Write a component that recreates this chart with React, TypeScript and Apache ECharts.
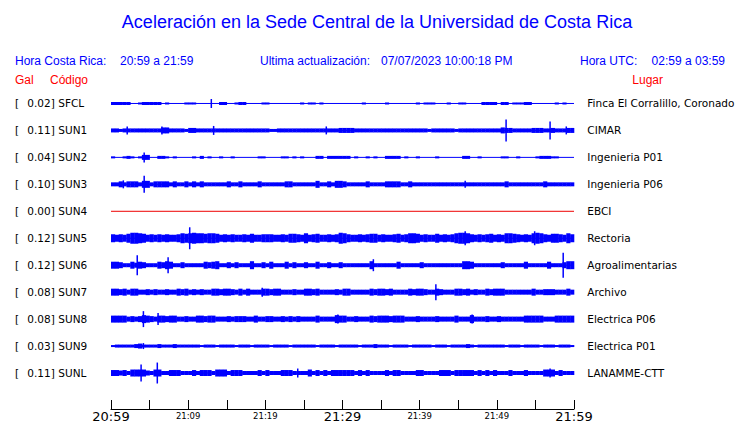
import React, { useEffect, useRef } from "react";
import * as echarts from "echarts";

// ---------- data ----------
const titleText = "Aceleración en la Sede Central de la Universidad de Costa Rica";
const localRange = "20:59 a 21:59";
const utcRange = "02:59 a 03:59";
const lastUpdate = "07/07/2023 10:00:18 PM";

const startHour = 20;
const startMinute = 59;
const spanMinutes = 60;
const binMinutes = 0.5;

const stationCodes = ["SFCL", "SUN1", "SUN2", "SUN3", "SUN4", "SUN5", "SUN6", "SUN7", "SUN8", "SUN9", "SUNL"];
const peakGal = ["0.02", "0.11", "0.04", "0.10", "0.00", "0.12", "0.12", "0.08", "0.08", "0.03", "0.11"];
const places = [
  "Finca El Corralillo, Coronado",
  "CIMAR",
  "Ingenieria P01",
  "Ingenieria P06",
  "EBCI",
  "Rectoria",
  "Agroalimentarias",
  "Archivo",
  "Electrica P06",
  "Electrica P01",
  "LANAMME-CTT",
];
const traceColors = ["#0000ff", "#0000ff", "#0000ff", "#0000ff", "#ee0000", "#0000ff", "#0000ff", "#0000ff", "#0000ff", "#0000ff", "#0000ff"];

// envelope thickness (px, base-36 digit) per half-minute bin, read from the record
const envSFCL = ["3333311233", "3331211112", "2211111133", "1123311112", "2111111112", "1221211111", "1111121111", "1211111112", "1222111211", "2211113333", "1331222331", "1111121211"];
const envSUN1 = ["4434444444", "4446644443", "5544444444", "4444444444", "4334444444", "4444444445", "5554444444", "4444444444", "4434444443", "4444444444", "4655444445", "5544544455"];
const envSUN2 = ["2112321255", "1133212111", "1213121121", "1211111122", "1111221212", "1113313333", "3312112121", "1333312112", "1111211111", "1331121111", "1221121111", "2333221111"];
const envSUN3 = ["4464666477", "4666646446", "4646444444", "6446444464", "4444466444", "4447446477", "6444446444", "4666644644", "4444444444", "4444444444", "4464444444", "4464444444"];
const envSUN4: string[] = [];
const envSUN5 = ["87879bba97", "87878778a9", "abaa9aa978", "7877879778", "8877879987", "a78977878b", "a877878997", "8778978aa9", "787797878a", "bba8787897", "87aa98787a", "ba879987a8"];
const envSUN6 = ["7764475764", "4476874464", "4444767844", "6464448446", "4744474644", "6447446446", "4444444844", "4444744444", "6444444444", "4887444444", "4644444744", "4447444688"];
const envSUN7 = ["7767577556", "5655655767", "5656557767", "7657575557", "7677555655", "7767555565", "7755555767", "7675555767", "7655765557", "7675655767", "7755555557", "5566655575"];
const envSUN8 = ["7777565687", "6577677556", "5577677555", "6566655755", "6655656565", "5557555587", "7556555767", "7767775556", "5555655557", "5558555655", "6555555777", "7755577777"];
const envSUN9 = ["2333334533", "3343334333", "3332333233", "3323332333", "3233332333", "3332333323", "3333233343", "3323333233", "3332333233", "3343233333", "3323332333", "3233323332"];
const envSUNL = ["6656477775", "4774466644", "4646664777", "4666444464", "6444666444", "4746464666", "6664646444", "4646644446", "6444466646", "6666464646", "4446444644", "4477746444"];

// spikes: [minute, full height px]
const spkSFCL = [[13.0, 9]];
const spkSUN1 = [[2.1, 8], [6.6, 8], [13.3, 9], [27.9, 8], [51.2, 22], [56.9, 18], [59.0, 8]];
const spkSUN2 = [[4.3, 10]];
const spkSUN3 = [[1.6, 8], [4.3, 17], [45.9, 7]];
const spkSUN4: number[][] = [];
const spkSUN5 = [[10.2, 22], [45.9, 14], [54.9, 14]];
const spkSUN6 = [[3.4, 20], [7.4, 16], [34.0, 12], [58.6, 25]];
const spkSUN7 = [[19.6, 9], [42.1, 16]];
const spkSUN8 = [[4.2, 16], [6.1, 12], [29.4, 9], [46.8, 9]];
const spkSUN9 = [[4.2, 6]];
const spkSUNL = [[3.9, 17], [6.0, 21], [24.2, 9], [56.9, 9]];

const envelopes = [envSFCL, envSUN1, envSUN2, envSUN3, envSUN4, envSUN5, envSUN6, envSUN7, envSUN8, envSUN9, envSUNL];
const spikes = [spkSFCL, spkSUN1, spkSUN2, spkSUN3, spkSUN4, spkSUN5, spkSUN6, spkSUN7, spkSUN8, spkSUN9, spkSUNL];

// ---------- layout/styling ----------
const ROW = 27;
const BLUE = "#0000ff";
const RED = "#ff0000";
const SANS = '"Liberation Sans", Arial, sans-serif';
const DEJAVU = '"DejaVu Sans", sans-serif';

function timeLabel(v: number) {
  const tot = startHour * 60 + startMinute + v;
  const h = Math.floor(tot / 60) % 24;
  const m = tot % 60;
  return `${h}:${m < 10 ? "0" + m : m}`;
}

function buildOption() {
  const series: any[] = [];
  stationCodes.forEach((code, i) => {
    const c = ROW / 2 + ROW * i;
    const color = traceColors[i];
    series.push({
      type: "line",
      name: code + "-base",
      yAxisIndex: 0,
      data: [[0, c], [spanMinutes, c]],
      symbol: "none",
      silent: true,
      lineStyle: { color, width: 1 },
      z: 2,
    });
    const env = envelopes[i].join("");
    const bands: number[][] = [];
    for (let j = 0; j < env.length; j++) {
      const t = parseInt(env[j], 36);
      if (t > 1) bands.push([j * binMinutes, c, t]);
    }
    series.push({
      type: "custom",
      name: code + "-env",
      yAxisIndex: 0,
      silent: true,
      itemStyle: { color },
      data: bands,
      z: 3,
      renderItem: (params: any, api: any) => {
        const m = api.value(0);
        const cc = api.value(1);
        const t = api.value(2);
        const a = api.coord([m, cc - t / 2]);
        const b = api.coord([m + binMinutes, cc + t / 2]);
        return {
          type: "rect",
          shape: { x: a[0], y: Math.min(a[1], b[1]), width: b[0] - a[0] + 0.3, height: Math.abs(b[1] - a[1]) },
          style: { fill: color },
        };
      },
    });
    series.push({
      type: "custom",
      name: code + "-spk",
      yAxisIndex: 0,
      silent: true,
      data: spikes[i].map((s) => [s[0], c, s[1]]),
      z: 4,
      renderItem: (params: any, api: any) => {
        const m = api.value(0);
        const cc = api.value(1);
        const h = api.value(2);
        const a = api.coord([m, cc - h / 2]);
        const b = api.coord([m, cc + h / 2]);
        return {
          type: "rect",
          shape: { x: a[0] - 0.75, y: Math.min(a[1], b[1]), width: 1.5, height: Math.abs(b[1] - a[1]) },
          style: { fill: color },
        };
      },
    });
  });

  const txt = (x: number, y: number, text: string, fill: string, size: number, align = "left", family = SANS) => ({
    type: "text",
    x,
    y,
    silent: true,
    style: { text, fill, font: `${size}px ${family}`, align, verticalAlign: "middle" },
  });

  return {
    animation: false,
    backgroundColor: "#ffffff",
    grid: { left: 111, top: 90, width: 463, height: ROW * stationCodes.length },
    xAxis: {
      type: "value",
      min: 0,
      max: spanMinutes,
      interval: 5,
      position: "bottom",
      offset: 22.5,
      axisLine: { show: true, onZero: false, lineStyle: { color: "#000", width: 1 } },
      axisTick: { show: true, inside: true, length: 9, lineStyle: { color: "#000", width: 1 } },
      splitLine: { show: false },
      axisLabel: {
        margin: 1,
        hideOverlap: false,
        showMinLabel: true,
        showMaxLabel: true,
        formatter: (v: number) => {
          if (v % 30 === 0) return `{big|${timeLabel(v)}}`;
          if (v % 10 === 0) return `{small|${timeLabel(v)}}`;
          return "";
        },
        rich: {
          big: { fontSize: 13, fontFamily: DEJAVU, color: "#000" },
          small: { fontSize: 8.5, fontFamily: DEJAVU, color: "#000", padding: [1, 0, 0, 0] },
        },
      },
    },
    yAxis: [
      {
        type: "value",
        min: 0,
        max: ROW * stationCodes.length,
        inverse: true,
        show: false,
      },
      {
        type: "category",
        data: stationCodes,
        inverse: true,
        position: "left",
        axisLine: { show: false },
        axisTick: { show: false },
        splitLine: { show: false },
        axisLabel: {
          align: "left",
          margin: 96,
          formatter: (v: string) => {
            const i = stationCodes.indexOf(v);
            return `{a|[}{b|${peakGal[i]}]}{c|${v}}`;
          },
          rich: {
            a: { width: 12.3, fontSize: 10.5, fontFamily: DEJAVU, color: "#000" },
            b: { width: 31, fontSize: 10.5, fontFamily: DEJAVU, color: "#000" },
            c: { fontSize: 10.5, fontFamily: DEJAVU, color: "#000" },
          },
        },
      },
      {
        type: "category",
        data: places,
        inverse: true,
        position: "right",
        axisLine: { show: false },
        axisTick: { show: false },
        splitLine: { show: false },
        axisLabel: { align: "left", margin: 13.3, fontSize: 10.5, fontFamily: DEJAVU, color: "#000" },
      },
    ],
    graphic: [
      txt(377, 22, titleText, BLUE, 18, "center"),
      txt(15, 61, "Hora Costa Rica:", BLUE, 12),
      txt(120, 61, localRange, BLUE, 12),
      txt(260, 61, "Ultima actualización:", BLUE, 12),
      txt(381, 61, lastUpdate, BLUE, 12),
      txt(580, 61, "Hora UTC:", BLUE, 12),
      txt(725, 61, utcRange, BLUE, 12, "right"),
      txt(15, 80, "Gal", RED, 12),
      txt(50, 80, "Código", RED, 12),
      txt(663, 80, "Lugar", RED, 12, "right"),
    ],
    series,
  };
}

export default function App() {
  const ref = useRef<HTMLDivElement>(null);
  useEffect(() => {
    const chart = echarts.init(ref.current!, null, { renderer: "svg" });
    chart.setOption(buildOption() as any);
    return () => chart.dispose();
  }, []);
  return <div ref={ref} style={{ position: "absolute", left: 0, top: 0, width: 740, height: 423 }} />;
}
